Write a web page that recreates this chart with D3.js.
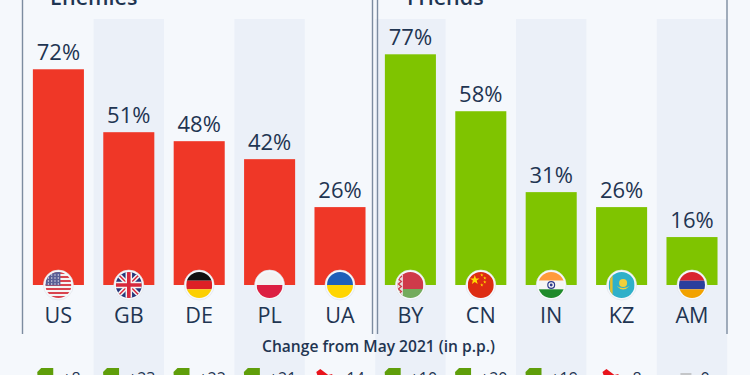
<!DOCTYPE html>
<html><head><meta charset="utf-8">
<script src="https://cdn.jsdelivr.net/npm/d3@7"></script>
<style>html,body{margin:0;padding:0;background:#f5f8fc;overflow:hidden}svg{display:block}text{font-family:"Open Sans",sans-serif}</style>
</head><body><svg id="c" width="750" height="375"></svg>
<script>
const enemies = ["US","GB","DE","PL","UA"];
const enemyValues = [72,51,48,42,26];
const enemyChanges = [8,23,22,21,-14];
const friends = ["BY","CN","IN","KZ","AM"];
const friendValues = [77,58,31,26,16];
const friendChanges = [10,20,19,-8,0];
const panelTitles = ["Enemies","Friends"];
const changeTitle = "Change from May 2021 (in p.p.)";

const ink = "#1f3552", red = "#ef3727", green = "#7fc400", rule = "#7c8ca0";
const svg = d3.select("#c");
const defs = svg.append("defs");
const codes = enemies.concat(friends);
const values = enemyValues.concat(friendValues);
const changes = enemyChanges.concat(friendChanges);
const rows = codes.map((code,i)=>({code,value:values[i],change:changes[i],i,color:i<enemies.length?red:green}));

const x = d3.scaleBand().domain(codes).range([23.2,727.2]).paddingInner(0.275).paddingOuter(0.1375);
const y = d3.scaleLinear().domain([0,77]).range([285,54.3]);
const center = c => x(c)+x.bandwidth()/2;
const step = x.step();

svg.append("g").selectAll("rect").data(rows.filter(d=>d.i%2===1)).join("rect")
  .attr("x",d=>center(d.code)-step/2).attr("width",step)
  .attr("y",19).attr("height",356).attr("fill","#ebf0f8");

svg.append("g").selectAll("line").data([22.5,372.5,377.5,727]).join("line")
  .attr("x1",d=>d).attr("x2",d=>d).attr("y1",0).attr("y2",334)
  .attr("stroke",rule).attr("stroke-width",1.4);

svg.append("g").selectAll("text").data(panelTitles).join("text")
  .attr("x",(d,i)=>i?407:50).attr("y",4.5)
  .attr("font-size",21.5).attr("font-weight",600).attr("fill",ink).text(d=>d);

svg.append("g").selectAll("rect").data(rows).join("rect")
  .attr("x",d=>x(d.code)).attr("width",x.bandwidth())
  .attr("y",d=>y(d.value)).attr("height",d=>y(0)-y(d.value)).attr("fill",d=>d.color);

svg.append("g").selectAll("text").data(rows).join("text")
  .attr("x",d=>center(d.code)).attr("y",d=>y(d.value)-9.5)
  .attr("text-anchor","middle").attr("font-size",22).attr("fill",ink).text(d=>d.value+"%");

const R = 13;
const stripes = (g,cols,ys) => cols.forEach((c,i)=>g.append("rect").attr("x",-R).attr("width",2*R).attr("y",ys[i]).attr("height",ys[i+1]-ys[i]).attr("fill",c));
const star = (g,cx,cy,r,fill) => {
  const pts=d3.range(10).map(k=>{const a=-Math.PI/2+k*Math.PI/5,q=k%2?r*0.4:r;return [cx+q*Math.cos(a),cy+q*Math.sin(a)];});
  g.append("polygon").attr("points",pts.join(" ")).attr("fill",fill);
};
const flagDraw = {
  US(g){
    d3.range(7).forEach(k=>g.append("rect").attr("x",-R).attr("width",2*R).attr("y",-R+k*2*R/6.5).attr("height",R/6.5).attr("fill","#d9434e"));
    d3.range(6).forEach(k=>g.append("rect").attr("x",-R).attr("width",2*R).attr("y",-R+(k+.5)*2*R/6.5).attr("height",R/6.5).attr("fill","#f4f4f4"));
    g.append("rect").attr("x",-R).attr("y",-R).attr("width",R+2).attr("height",R+0.5).attr("fill","#5a5f96");
    d3.range(4).forEach(a=>d3.range(4).forEach(b=>g.append("circle").attr("cx",-10+b*3.3).attr("cy",-10+a*3).attr("r",.7).attr("fill","#e8e8f2")));
  },
  GB(g){
    g.append("rect").attr("x",-R).attr("y",-R).attr("width",2*R).attr("height",2*R).attr("fill","#27367a");
    g.append("path").attr("d","M-13-13L13 13M13-13L-13 13").attr("stroke","#f4f4f4").attr("stroke-width",4.5);
    g.append("path").attr("d","M-13-13L13 13M13-13L-13 13").attr("stroke","#d8283c").attr("stroke-width",1.5);
    g.append("path").attr("d","M0-13V13M-13 0H13").attr("stroke","#f4f4f4").attr("stroke-width",6.5);
    g.append("path").attr("d","M0-13V13M-13 0H13").attr("stroke","#d8283c").attr("stroke-width",3.6);
  },
  DE(g){stripes(g,["#111","#dd1f26","#fccf00"],[-13,-4.3,4.3,13]);},
  PL(g){stripes(g,["#f2f2f2","#dc1f41"],[-13,0,13]);},
  UA(g){stripes(g,["#1f5fb8","#ffd500"],[-13,0,13]);},
  BY(g){
    stripes(g,["#cf3a4a","#73ab5c"],[-13,4,13]);
    g.append("rect").attr("x",-13).attr("y",-13).attr("width",5.5).attr("height",26).attr("fill","#e9dfe0");
    g.append("path").attr("d","M-12-11l3 2.5l-3 2.5l3 2.5l-3 2.5l3 2.5l-3 2.5l3 2.5l-3 2.5l3 2.5").attr("fill","none").attr("stroke","#cf3a4a").attr("stroke-width",1.3);
  },
  CN(g){
    g.append("rect").attr("x",-R).attr("y",-R).attr("width",2*R).attr("height",2*R).attr("fill","#dd2c12");
    star(g,-6,-5,5,"#ffd800");
    [[1,-10],[4,-7],[4,-3],[1,0]].forEach(p=>star(g,p[0],p[1],1.7,"#ffd800"));
  },
  IN(g){
    stripes(g,["#ff9a3c","#f5f5f5","#1f8a2a"],[-13,-4.3,4.3,13]);
    g.append("circle").attr("r",3.4).attr("fill","none").attr("stroke","#2c3a8c").attr("stroke-width",1.2);
    g.append("circle").attr("r",1.4).attr("fill","#2c3a8c");
  },
  KZ(g){
    g.append("rect").attr("x",-R).attr("y",-R).attr("width",2*R).attr("height",2*R).attr("fill","#2fb0c9");
    g.append("rect").attr("x",-11.5).attr("y",-R).attr("width",2.5).attr("height",2*R).attr("fill","#e3c12e");
    g.append("circle").attr("cx",1.5).attr("cy",-2).attr("r",4).attr("fill","#f2cf3a");
    g.append("path").attr("d","M-5 1Q1.5 8 8 1Q1.5 5-5 1").attr("fill","#f2cf3a");
  },
  AM(g){stripes(g,["#d9232e","#2a3f9c","#f2a200"],[-13,-4.3,4.3,13]);}
};
const flags = svg.append("g").selectAll("g").data(rows).join("g")
  .attr("transform",d=>`translate(${center(d.code)},${y(0)})`);
flags.append("circle").attr("r",15).attr("fill","#f5f8fc").attr("stroke","#dfe3e8").attr("stroke-width",.6);
defs.append("clipPath").attr("id","fc").append("circle").attr("r",R);
flags.append("g").attr("clip-path","url(#fc)").each(function(d){flagDraw[d.code](d3.select(this));});

svg.append("g").selectAll("text").data(rows).join("text")
  .attr("x",d=>center(d.code)).attr("y",322.7)
  .attr("text-anchor","middle").attr("font-size",21.6).attr("fill",ink).text(d=>d.code);

svg.append("text").attr("x",378.5).attr("y",351.5).attr("text-anchor","middle")
  .attr("font-size",15.6).attr("font-weight",600).attr("fill",ink).text(changeTitle);

const arrows = {
  up:{d:"M0 372L4 368H16V386H1Z",fill:"#5f9e0a"},
  down:{d:"M0 372L4 369L12 375L16 374V386H5Z",fill:"#e8141c"},
  flat:{d:"M5 373H16V377H5Z",fill:"#c4c6c9"}
};
const cell = svg.append("g").selectAll("g").data(rows).join("g");
const fmt = v => v>0?"+"+v:(v<0?"-"+Math.abs(v):"0");
cell.each(function(d){
  const g=d3.select(this);
  const t=g.append("text").attr("y",384).attr("font-size",16).attr("fill",ink).text(fmt(d.change));
  const w=t.node().getComputedTextLength();
  const left=center(d.code)-(w+25)/2+0.5;
  t.attr("x",left+25);
  const a=d.change>0?arrows.up:d.change<0?arrows.down:arrows.flat;
  g.append("path").attr("d",a.d).attr("fill",a.fill).attr("transform",`translate(${left},0)`);
});
</script></body></html>
